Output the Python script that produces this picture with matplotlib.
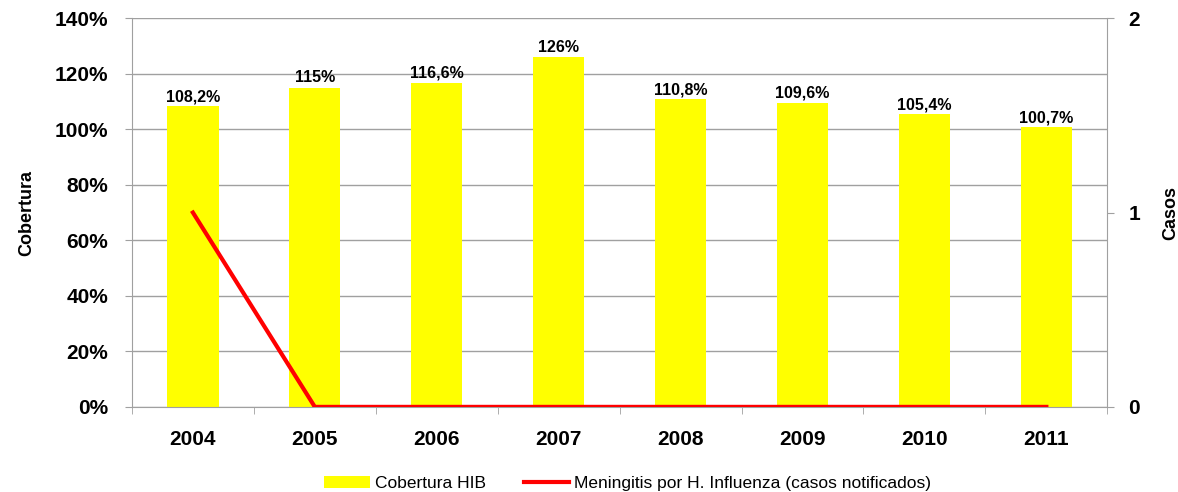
import numpy as np
import matplotlib.pyplot as plt

plt.rcParams['font.family'] = ['Liberation Sans', 'DejaVu Sans']

# Datos
anios = ['2004', '2005', '2006', '2007', '2008', '2009', '2010', '2011']
cobertura = [108.2, 115, 116.6, 126, 110.8, 109.6, 105.4, 100.7]
etiquetas = ['108,2%', '115%', '116,6%', '126%', '110,8%', '109,6%', '105,4%', '100,7%']
casos = [1, 0, 0, 0, 0, 0, 0, 0]

fig = plt.figure(figsize=(11.78, 4.92), dpi=100)
ax = fig.add_axes([0.112, 0.173, 0.828, 0.790])
x = np.arange(len(anios))

ax.set_axisbelow(True)
ax.grid(axis='y', color='#a0a0a0', linewidth=1)
barras = ax.bar(x, cobertura, width=0.42, color='#ffff00', label='Cobertura HIB', zorder=2)
for xi, v, t in zip(x, cobertura, etiquetas):
    ax.text(xi, v + 0.8, t, ha='center', va='bottom', fontsize=11.5, fontweight='bold')

ax.set_xlim(-0.5, len(anios) - 0.5)
ax.set_ylim(0, 140)
ax.set_yticks(np.arange(0, 141, 20))
ax.set_yticklabels([f'{v}%' for v in range(0, 141, 20)], fontsize=15, fontweight='bold')
ax.set_xticks(x)
ax.set_xticklabels(anios, fontsize=15, fontweight='bold')
ax.tick_params(axis='x', length=0, pad=17)
ax.set_xticks(np.arange(-0.5, len(anios)), minor=True)
ax.tick_params(axis='x', which='minor', length=5, color='#a0a0a0')
ax.tick_params(axis='y', length=5, color='#a0a0a0', pad=12)
for s in ['top', 'right']:
    ax.spines[s].set_visible(False)
for s in ['left', 'bottom']:
    ax.spines[s].set_color('#a0a0a0')
ax.set_ylabel('Cobertura', fontsize=13, fontweight='bold', labelpad=14)

ax2 = ax.twinx()
linea, = ax2.plot(x, casos, color='#ff0000', linewidth=3, label='Meningitis por H. Influenza (casos notificados)', zorder=3)
ax2.set_ylim(0, 2)
ax2.set_yticks([0, 1, 2])
ax2.set_yticklabels(['0', '1', '2'], fontsize=15, fontweight='bold')
ax2.tick_params(axis='y', length=5, color='#a0a0a0', pad=10)
for s in ['top', 'left', 'bottom']:
    ax2.spines[s].set_visible(False)
ax2.spines['right'].set_color('#a0a0a0')
ax2.set_ylabel('Casos', fontsize=13, fontweight='bold', labelpad=16)

fig.legend([barras, linea], ['Cobertura HIB', 'Meningitis por H. Influenza (casos notificados)'],
           loc='center', bbox_to_anchor=(0.533, 0.018), ncol=2, frameon=False, fontsize=12.5,
           handlelength=2.6, handletextpad=0.3, columnspacing=2.2)

plt.savefig('out.png', dpi=100)
